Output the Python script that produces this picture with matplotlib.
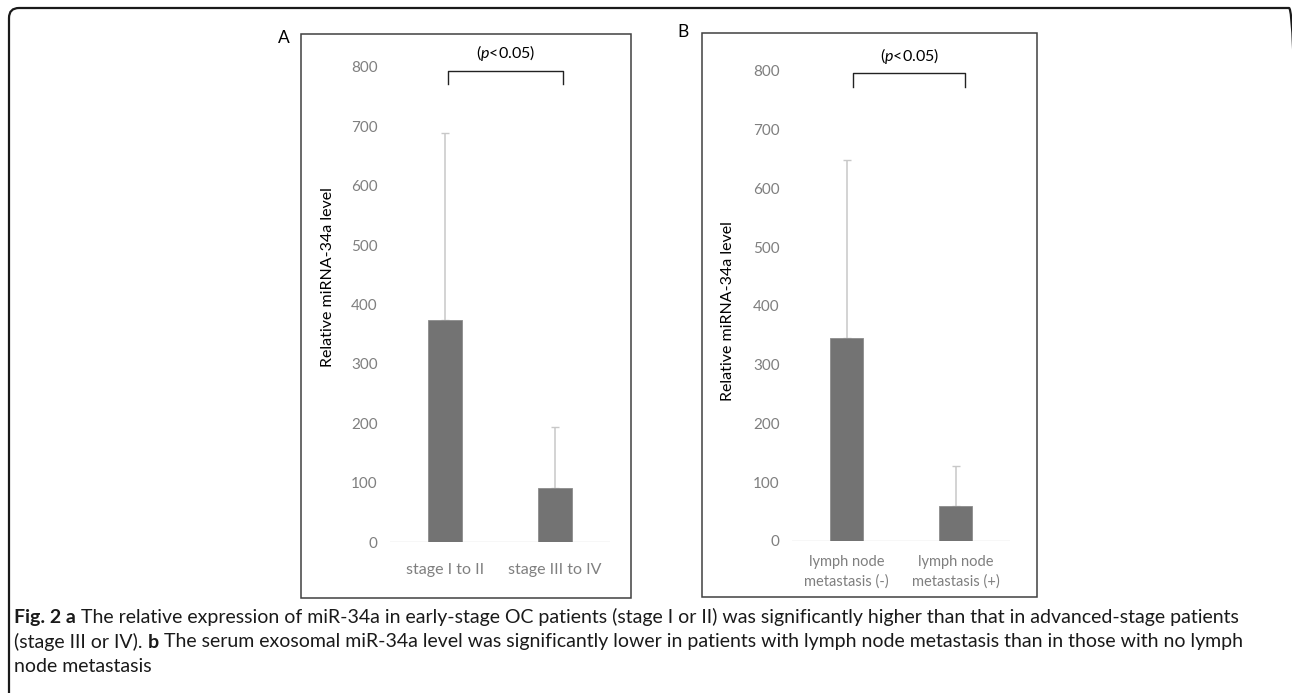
import matplotlib
matplotlib.use("Agg")
import matplotlib.pyplot as plt
from matplotlib.patches import Rectangle, FancyBboxPatch

plt.rcParams['font.family'] = ['Lato', 'DejaVu Sans']
plt.rcParams['mathtext.fontset'] = 'custom'
plt.rcParams['mathtext.rm'] = 'Lato'
plt.rcParams['mathtext.it'] = 'Lato:italic'

W, H = 1292, 693

# data
cats_a = ["stage I to II", "stage III to IV"]
vals_a = [374, 91]
err_a = [315, 103]

cats_b = ["lymph node\nmetastasis (-)", "lymph node\nmetastasis (+)"]
vals_b = [346, 60]
err_b = [302, 67]

yticks = [0, 100, 200, 300, 400, 500, 600, 700, 800]
ylabel = "Relative miRNA-34a level"
sig_text = r"($\mathit{p}$<0.05)"

caption = [
    [("Fig. 2 a", "bold"), (" The relative expression of miR-34a in early-stage OC patients (stage I or II) was significantly higher than that in advanced-stage patients", "normal")],
    [("(stage III or IV). ", "normal"), ("b", "bold"), (" The serum exosomal miR-34a level was significantly lower in patients with lymph node metastasis than in those with no lymph", "normal")],
    [("node metastasis", "normal")],
]


def fx(px):
    return px / W


def fy(py):
    return 1 - py / H


fig = plt.figure(figsize=(W / 100, H / 100), dpi=100)

# outer rounded frame (open at the bottom / right edge of the image)
frame = FancyBboxPatch((9 / 100, -0.3), (1299 - 9) / 100, (H - 8) / 100 + 0.3,
                       boxstyle="round,pad=0,rounding_size=0.1",
                       transform=fig.dpi_scale_trans, fill=False,
                       ec="#1a1a1a", lw=1.6, clip_on=False)
fig.add_artist(frame)

# panel boxes
fig.add_artist(Rectangle((fx(301), fy(598)), 330 / W, 564 / H, transform=fig.transFigure,
                         fill=False, ec="#404040", lw=1.1))
fig.add_artist(Rectangle((fx(702), fy(597)), 335 / W, 564 / H, transform=fig.transFigure,
                         fill=False, ec="#404040", lw=1.1))
fig.text(fx(284), fy(38), "A", ha="center", va="center", fontsize=12.5)
fig.text(fx(683), fy(32), "B", ha="center", va="center", fontsize=12.5)


def panel(rect, cats, vals, errs, bx, by, label_pad, lsize, ylab_xy):
    ax = fig.add_axes(rect)
    x = list(range(len(cats)))
    ax.bar(x, vals, width=0.31, color="#737373", edgecolor="#8c8c8c", linewidth=0.6, zorder=3)
    ax.errorbar(x, vals, yerr=[[0] * len(errs), errs], fmt="none", ecolor="#c8c8c8",
                elinewidth=1.1, capsize=3, capthick=1.0, zorder=2)
    ax.axhline(0, color="#d9d9d9", lw=1.0, zorder=1)
    ax.set_xlim(-0.5, 1.5)
    ax.set_ylim(0, 800)
    ax.set_yticks(yticks)
    ax.set_xticks(x)
    ax.set_xticklabels(cats, linespacing=1.45)
    for s in ax.spines.values():
        s.set_visible(False)
    ax.tick_params(axis="y", length=0, pad=9, labelcolor="#7f7f7f", labelsize=11)
    ax.tick_params(axis="x", length=0, pad=label_pad, labelcolor="#7f7f7f", labelsize=lsize)
    ax.text(ylab_xy[0], ylab_xy[1], ylabel, rotation=90, ha="center", va="center",
            fontsize=11.5, transform=ax.transAxes)
    ax.plot([bx[0], bx[0], bx[1], bx[1]], [by[0], by[1], by[1], by[0]], color="#222222",
            lw=1.0, clip_on=False)
    ax.text((bx[0] + bx[1]) / 2, by[1] + 29, sig_text, ha="center", va="center",
            fontsize=11.5, clip_on=False)
    return ax


panel([fx(390), fy(542), 220 / W, 475 / H], cats_a, vals_a, errs=err_a,
      bx=(0.03, 1.07), by=(772, 794), label_pad=15, lsize=11.5, ylab_xy=(-0.28, 0.558))
panel([fx(792), fy(541), 218 / W, 470 / H], cats_b, vals_b, errs=err_b,
      bx=(0.06, 1.09), by=(773, 797), label_pad=10, lsize=10.5, ylab_xy=(-0.294, 0.49))

# caption with mixed bold runs
renderer = fig.canvas.get_renderer()
line_y = [617, 642, 667]
for segs, py in zip(caption, line_y):
    x0 = 14
    for txt, wt in segs:
        t = fig.text(fx(x0), fy(py), txt, ha="left", va="center", fontsize=14.0,
                     fontweight=wt, color="#1a1a1a")
        bb = t.get_window_extent(renderer)
        x0 += bb.width

fig.savefig("out.png", dpi=100)
